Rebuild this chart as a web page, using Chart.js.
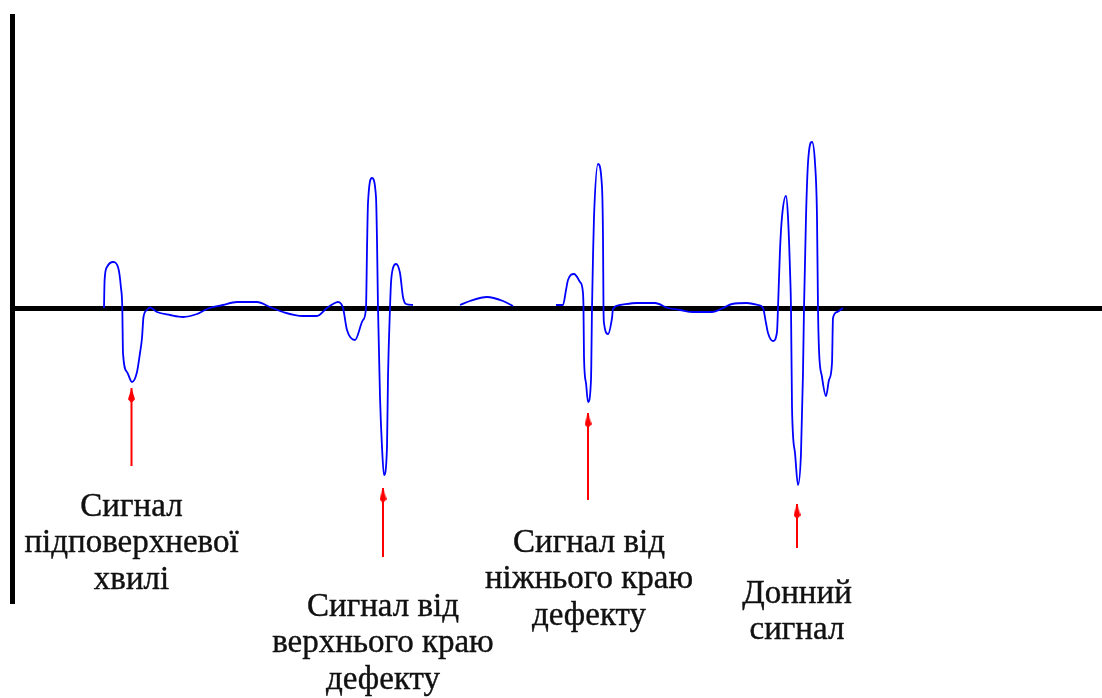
<!DOCTYPE html>
<html>
<head>
<meta charset="utf-8">
<script src="https://cdn.jsdelivr.net/npm/chart.js@4.4.1/dist/chart.umd.min.js"></script>
<style>
  html, body { margin: 0; padding: 0; background: #fff; overflow: hidden; }
  #wrap { position: relative; width: 1102px; height: 698px; }
  .caption {
    position: absolute;
    font-family: "Liberation Serif", "Times New Roman", Tinos, "Nimbus Roman", "DejaVu Serif", serif;
    font-size: 33px;
    line-height: 36.5px;
    color: #111;
    -webkit-text-stroke: 0.4px #111;
    text-align: center;
    white-space: pre;
    transform: translateX(-50%);
    pointer-events: none;
  }
</style>
</head>
<body>
<div id="wrap"><canvas id="scan" width="1102" height="698"></canvas></div>
<script>
// Ultrasonic A-scan: time (samples) vs. echo amplitude (arbitrary units, 0 = baseline)

// trace, part 1: sub-surface wave and echo from the upper edge of the flaw
const timeA = [92, 92.6, 95, 101, 106, 109, 110.3, 111, 115, 120,
               125, 128, 130, 131.5, 135, 138, 145, 158, 171, 185,
               195, 211, 225, 245, 258, 271, 291, 305, 315, 321,
               326, 331, 335, 343, 351, 354, 355, 356, 360, 364,
               365, 366, 368, 370, 372, 375, 376, 378, 379, 381,
               384, 388, 391, 394, 401];
const ampA = [0, 28, 41, 46, 41, 20, 0, -45, -64, -74,
              -64, -45, -30, -9, -2, 0.5, -4, -7, -9, -6,
              -1, 3, 6, 6, 1, -4, -8, -8, 0, 4,
              6, 0, -22, -32, -12, 0, 58, 105, 130, 111,
              68, 0, -89, -139, -167, -139, -69, 0, 25, 40,
              44, 35, 11, 4, 3];

// trace, part 2: small hump between the echoes
const timeB = [448, 458, 475, 491, 501];
const ampB = [3, 7, 11, 7, 2];

// trace, part 3: echo from the lower edge of the flaw and the back-wall echo
const timeC = [544, 551, 554, 556, 562, 568, 571, 571.5, 572, 574,
               576, 579, 580, 581, 582, 586, 590, 591, 591.5, 592,
               596, 600, 601, 608, 625, 643, 656, 668, 681, 700,
               711, 720, 735, 746, 751, 754, 756, 761, 765, 766,
               768, 770, 774, 776, 778, 779, 780, 783, 786, 789,
               791, 792, 794, 796, 800, 803, 805, 806, 807, 810,
               814, 817, 820, 821, 825, 831];
const ampC = [3, 3, 18, 28, 34, 26, 15, 0, -49, -75,
              -94, -72, 0, 51, 91, 144, 121, 71, 0, -15,
              -26, -10, -1, 3, 5, 5, 0, -2, -4, -4,
              0, 4, 5, 3, 0, -15, -25, -33, -24, 0,
              58, 91, 112, 91, 38, 0, -99, -145, -177, -145,
              -65, 0, 91, 145, 166, 145, 91, 0, -42, -69,
              -88, -72, -55, -10, -4, 0];

// pointer arrows under each echo
const arrowTime = [119.5, 371, 576, 785];
const arrowTip  = [-80, -180, -105, -196];
const arrowTail = [-158, -249, -192, -240];

// captions
const labelLines = [
  ['Сигнал', 'підповерхневої', 'хвилі'],
  ['Сигнал від', 'верхнього краю', 'дефекту'],
  ['Сигнал від', 'ніжнього краю', 'дефекту'],
  ['Донний', 'сигнал']
];
const labelTime = [119.5, 371, 577, 785];
const labelBaseline = [-208, -308, -244, -295];

// distance from the top of a caption line box to its baseline (33px Liberation Serif)
const CAPTION_ASCENT = 29.4;

const toPoints = (xs, ys) => xs.map((x, i) => ({ x, y: ys[i] }));

const traceStyle = {
  type: 'line',
  borderColor: '#0000ff',
  borderWidth: 1.8,
  pointRadius: 0,
  fill: false,
  cubicInterpolationMode: 'monotone'
};

const arrowShafts = [];
arrowTime.forEach((t, i) => {
  arrowShafts.push({ x: t, y: arrowTail[i] }, { x: t, y: arrowTip[i] }, { x: t, y: null });
});
const arrowHeads = arrowTime.map((t, i) => ({ x: t, y: arrowTip[i] - 7 }));

// slim arrowhead used as the point style of the head markers
function headGlyph(w, h, color) {
  const c = document.createElement('canvas');
  c.width = w; c.height = h;
  const g = c.getContext('2d');
  g.fillStyle = color;
  g.beginPath();
  g.moveTo(w / 2, 0);
  g.lineTo(w, h * 0.8);
  g.lineTo(w / 2 + 1, h);
  g.lineTo(w / 2 - 1, h);
  g.lineTo(0, h * 0.8);
  g.closePath();
  g.fill();
  return c;
}

// multi-line captions placed with the chart's scales under each arrow
const captionPlugin = {
  id: 'echoCaptions',
  afterRender(chart) {
    const { x, y } = chart.scales;
    const wrap = chart.canvas.parentNode;
    labelLines.forEach((lines, i) => {
      let el = document.getElementById('caption-' + i);
      if (!el) {
        el = document.createElement('div');
        el.id = 'caption-' + i;
        el.className = 'caption';
        el.textContent = lines.join('\n');
        wrap.appendChild(el);
      }
      el.style.left = x.getPixelForValue(labelTime[i]) + 'px';
      el.style.top = (y.getPixelForValue(labelBaseline[i]) - CAPTION_ASCENT) + 'px';
    });
  }
};

new Chart(document.getElementById('scan'), {
  data: {
    datasets: [
      { ...traceStyle, data: toPoints(timeA, ampA) },
      { ...traceStyle, data: toPoints(timeB, ampB) },
      { ...traceStyle, data: toPoints(timeC, ampC) },
      {
        type: 'line',
        data: arrowShafts,
        borderColor: '#ff0000',
        borderWidth: 2,
        pointRadius: 0,
        spanGaps: false,
        tension: 0
      },
      {
        type: 'scatter',
        data: arrowHeads,
        pointStyle: headGlyph(7, 14, '#ff0000'),
        pointRadius: 7
      }
    ]
  },
  options: {
    responsive: false,
    animation: false,
    events: [],
    layout: { autoPadding: false, padding: { left: 12, top: 16, right: 0, bottom: 95 } },
    plugins: { legend: { display: false }, tooltip: { enabled: false } },
    scales: {
      x: {
        type: 'linear', min: 0, max: 1090,
        position: { y: 0 },
        grid: { display: false, drawTicks: false, tickLength: 0 },
        ticks: { display: false },
        border: { display: true, color: '#000', width: 5 }
      },
      y: {
        type: 'linear', min: -295, max: 292,
        grid: { display: false, drawTicks: false, tickLength: 0 },
        ticks: { display: false },
        border: { display: true, color: '#000', width: 5 }
      }
    }
  },
  plugins: [captionPlugin]
});
</script>
</body>
</html>
